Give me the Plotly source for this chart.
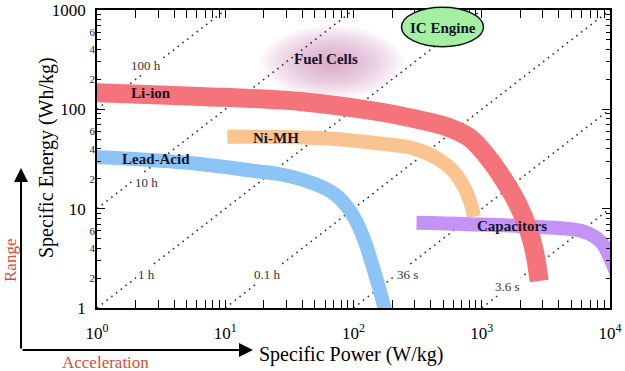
import math
import plotly.graph_objects as go

# ---------------- data ----------------
li_P = [0.9, 1, 6.4, 38.5, 162, 294, 540, 820, 1109, 1494, 1900, 2275, 2563, 2805]
li_E = [148, 146.5, 135, 120, 94, 80.7, 66.4, 50.8, 33.2, 19.3, 11.3, 6.56, 3.83, 1.87]

la_P = [0.9, 1, 5.33, 17.7, 26.9, 49, 70.2, 89.3, 107, 124, 144, 162.5, 180]
la_E = [33.5, 33.2, 28.8, 23.8, 22.2, 17.9, 14.2, 10.4, 7.1, 4.47, 2.41, 1.41, 0.85]

ni_P = [10.4, 58.3, 162.5, 296, 451, 590, 728, 820, 871]
ni_E = [52.9, 51.1, 45.2, 40.3, 32.0, 24.4, 16.6, 11.3, 8.3]

cap_P = [310, 773, 2563, 6300, 8510, 10180, 11340]
cap_E = [7.2, 6.98, 6.56, 5.85, 4.64, 3.04, 2.15]

time_hours = [100, 10, 1, 0.1, 0.01, 0.001]
time_labels = ["100 h", "10 h", "1 h", "0.1 h", "36 s", "3.6 s"]

y_major = [1, 10, 100, 1000]
y_major_text = ["1", "10", "100", "1000"]
y_minor_labeled = [2, 4, 6, 20, 40, 60, 200, 400, 600]
x_major = [1, 10, 100, 1000, 10000]
x_major_text = ["10<sup>0</sup>", "10<sup>1</sup>", "10<sup>2</sup>", "10<sup>3</sup>", "10<sup>4</sup>"]

# ---------------- geometry ----------------
W, H = 625, 371
L, R, T, B = 97, 15, 10, 63
PW, PH = W - L - R, H - T - B


def paper(px, py):
    return (px - L) / PW, (H - B - py) / PH


SERIF = "Liberation Serif"
fig = go.Figure()

# constant-time dotted guide lines  E = P * t
for t in time_hours:
    p0 = max(1.0, 1.0 / t)
    p1 = min(1e4, 1000.0 / t)
    fig.add_trace(go.Scatter(
        x=[p0, p1], y=[p0 * t, p1 * t], mode="lines",
        line=dict(color="#333333", width=1.6, dash="1.6px,4.4px"),
        hoverinfo="skip", showlegend=False))

bands = [
    (la_P, la_E, "#8CC4F5", 14),
    (ni_P, ni_E, "#F9C48F", 14),
    (cap_P, cap_E, "#C393F6", 14),
    (li_P, li_E, "#F5737A", 19),
]
for P, E, col, w in bands:
    fig.add_trace(go.Scatter(
        x=P, y=E, mode="lines",
        line=dict(color=col, width=w, shape="spline", smoothing=1.0),
        hoverinfo="skip", showlegend=False))

# invisible trace on overlay axis for small tick labels
fig.add_trace(go.Scatter(x=[1], y=[1], yaxis="y2", mode="markers",
                         marker=dict(opacity=0), hoverinfo="skip", showlegend=False))

shapes = []
# Fuel cells glow (soft radial fade)
cx, cy = 332, 62
n = 24
for i in range(n):
    f = 1 - i / n
    rx, ry = 72 * f, 37 * f
    x0, y0 = paper(cx - rx, cy + ry)
    x1, y1 = paper(cx + rx, cy - ry)
    shapes.append(dict(type="circle", xref="paper", yref="paper",
                       x0=x0, y0=y0, x1=x1, y1=y1,
                       fillcolor="rgba(200,130,195,0.042)", line=dict(width=0),
                       layer="below"))
# IC engine ellipse
x0, y0 = paper(401.5, 46.7)
x1, y1 = paper(483.5, 7.3)
shapes.append(dict(type="circle", xref="paper", yref="paper",
                   x0=x0, y0=y0, x1=x1, y1=y1,
                   fillcolor="#A3F0A3", line=dict(color="#111111", width=1.5),
                   layer="above"))

ann = []
# time labels (anchored in data space)
time_label_at = [(2.42, 277), (2.42, 18.5), (2.42, 2.15), (21.3, 2.15), (264, 2.15), (1600, 1.66)]
for txt, (p, e) in zip(time_labels, time_label_at):
    ann.append(dict(x=math.log10(p), y=math.log10(e), xref="x", yref="y", text=txt,
                    xanchor="center", yanchor="middle",
                    showarrow=False, bgcolor="white", borderpad=1,
                    font=dict(family=SERIF, size=13, color="#333333")))

band_labels = [("Li-ion", 2.65, 145), ("Ni-MH", 25, 51.7), ("Lead-Acid", 2.9, 31.4),
               ("Capacitors", 1720, 6.67), ("Fuel Cells", 61.5, 318), ("IC Engine", 496, 652)]
for txt, p, e in band_labels:
    ann.append(dict(x=math.log10(p), y=math.log10(e), xref="x", yref="y", text="<b>%s</b>" % txt,
                    xanchor="center", yanchor="middle",
                    showarrow=False, font=dict(family=SERIF, size=15, color="#14142a")))


def paper_text(text, px, py, size, color, angle=0):
    x, y = paper(px, py)
    ann.append(dict(x=x, y=y, xref="paper", yref="paper", text=text, textangle=angle,
                    xanchor="center", yanchor="middle", showarrow=False,
                    font=dict(family=SERIF, size=size, color=color)))


paper_text("Specific Power (W/kg)", 351, 354, 20, "black")
paper_text("Specific Energy (Wh/kg)", 47, 158, 20, "black", -90)
paper_text("Range", 10, 261, 17, "#D64C3C", -90)
paper_text("Acceleration", 105, 362, 17, "#D64C3C")

# arrows
px_, py_ = paper(21, 168)
ann.append(dict(x=px_, y=py_, xref="paper", yref="paper", text="", showarrow=True,
                ax=0, ay=182, arrowhead=2, arrowsize=1.4, arrowwidth=2, arrowcolor="black",
                standoff=0, startstandoff=0))
px_, py_ = paper(253, 350)
ann.append(dict(x=px_, y=py_, xref="paper", yref="paper", text="", showarrow=True,
                ax=-232, ay=0, arrowhead=2, arrowsize=1.4, arrowwidth=2, arrowcolor="black",
                standoff=0, startstandoff=0))

minor_y = [m * d for d in (1, 10, 100) for m in range(2, 10)]
minor_x = [m * d for d in (1, 10, 100, 1000) for m in range(2, 10)]

fig.update_layout(
    template="none",
    width=W, height=H, autosize=False,
    margin=dict(l=L, r=R, t=T, b=B, pad=0),
    paper_bgcolor="white", plot_bgcolor="white",
    showlegend=False,
    shapes=shapes, annotations=ann,
    xaxis=dict(type="log", range=[0, 4], tickmode="array", tickvals=x_major, ticktext=x_major_text,
               automargin=False,
               ticks="inside", ticklen=8, tickwidth=1.3, tickcolor="black",
               showline=True, linecolor="black", linewidth=1.6, mirror="allticks",
               showgrid=False, zeroline=False,
               tickfont=dict(family=SERIF, size=17, color="black"), ticklabelstandoff=9,
               minor=dict(tickmode="array", tickvals=minor_x, ticks="inside", ticklen=4,
                          tickwidth=1.1, tickcolor="black", showgrid=False)),
    yaxis=dict(type="log", range=[0, 3], tickmode="array", tickvals=y_major, ticktext=y_major_text,
               automargin=False,
               ticks="inside", ticklen=8, tickwidth=1.3, tickcolor="black",
               showline=True, linecolor="black", linewidth=1.6, mirror="allticks",
               showgrid=False, zeroline=False,
               tickfont=dict(family=SERIF, size=17, color="black"), ticklabelstandoff=6,
               minor=dict(tickmode="array", tickvals=minor_y, ticks="inside", ticklen=4,
                          tickwidth=1.1, tickcolor="black", showgrid=False)),
    yaxis2=dict(type="log", range=[0, 3], overlaying="y", side="left", anchor="x",
                automargin=False,
                tickmode="array", tickvals=y_minor_labeled,
                ticktext=[str(v)[0] for v in y_minor_labeled],
                ticks="", showline=False, showgrid=False, zeroline=False,
                tickfont=dict(family=SERIF, size=11, color="#222222"), ticklabelstandoff=1),
)

fig.write_html("out.html", config={"displayModeBar": False},
               post_script="document.body.style.margin='0';document.body.style.padding='0';")
